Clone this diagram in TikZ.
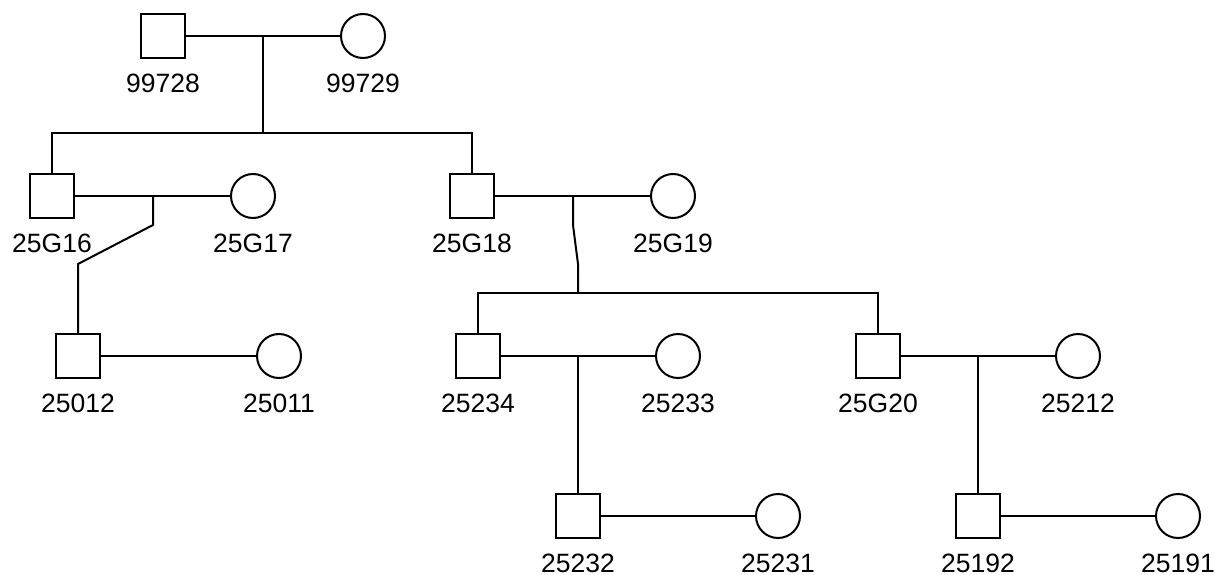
\documentclass[tikz,border=0pt]{standalone}
\usepackage{fontspec}
\setmainfont{Liberation Sans}
\begin{document}
\begin{tikzpicture}[x=1pt,y=-1pt,
  line width=2pt,
  male/.style={draw,rectangle,minimum size=44pt,inner sep=0pt},
  female/.style={draw,circle,minimum size=44pt,inner sep=0pt},
  lab/.style={inner sep=0pt,font=\fontsize{26.5}{27}\selectfont},
]
\useasboundingbox (0,0) rectangle (1215,575);
% generation 1
\node[male] (a) at (163,36) {};
\node[female] (b) at (363,36) {};
% generation 2
\node[male] (c) at (52,196) {};
\node[female] (d) at (253,196) {};
\node[male] (e) at (472,196) {};
\node[female] (f) at (673,196) {};
% generation 3
\node[male] (g) at (78,356) {};
\node[female] (h) at (279,356) {};
\node[male] (i) at (478,356) {};
\node[female] (j) at (678,356) {};
\node[male] (k) at (878,356) {};
\node[female] (l) at (1078,356) {};
% generation 4
\node[male] (m) at (578,516) {};
\node[female] (n) at (778,516) {};
\node[male] (o) at (978,516) {};
\node[female] (p) at (1178,516) {};
% labels
\foreach \n/\t in {a/99728,b/99729,c/25G16,d/25G17,e/25G18,f/25G19,g/25012,h/25011,i/25234,j/25233,k/25G20,l/25212,m/25232,n/25231,o/25192,p/25191}
  \node[lab] (\n l) at ([yshift=-47pt]\n.center) {\t};
% marriages
\draw (a.east) -- (b.west);
\draw (c.east) -- (d.west);
\draw (e.east) -- (f.west);
\draw (g.east) -- (h.west);
\draw (i.east) -- (j.west);
\draw (k.east) -- (l.west);
\draw (m.east) -- (n.west);
\draw (o.east) -- (p.west);
% descent 1
\coordinate (ab) at (263,36);
\coordinate (ab2) at (263,133);
\draw (ab) -- (ab2);
\draw (c.north) |- (ab2) -| (e.north);
% descent 2 (25G16 x 25G17)
\coordinate (cd) at (153,196);
\draw (cd) -- ++(0,29) -- (78,264) -- (g.north);
% descent 3 (25G18 x 25G19)
\coordinate (ef) at (573,196);
\coordinate (ef2) at (578,293);
\draw (ef) -- ++(0,29) -- (578,264) -- (ef2);
\draw (i.north) |- (ef2) -| (k.north);
% descent 4
\coordinate (ij) at (578,356);
\draw (ij) -- (m.north);
\coordinate (kl) at (978,356);
\draw (kl) -- (o.north);
\end{tikzpicture}
\end{document}
